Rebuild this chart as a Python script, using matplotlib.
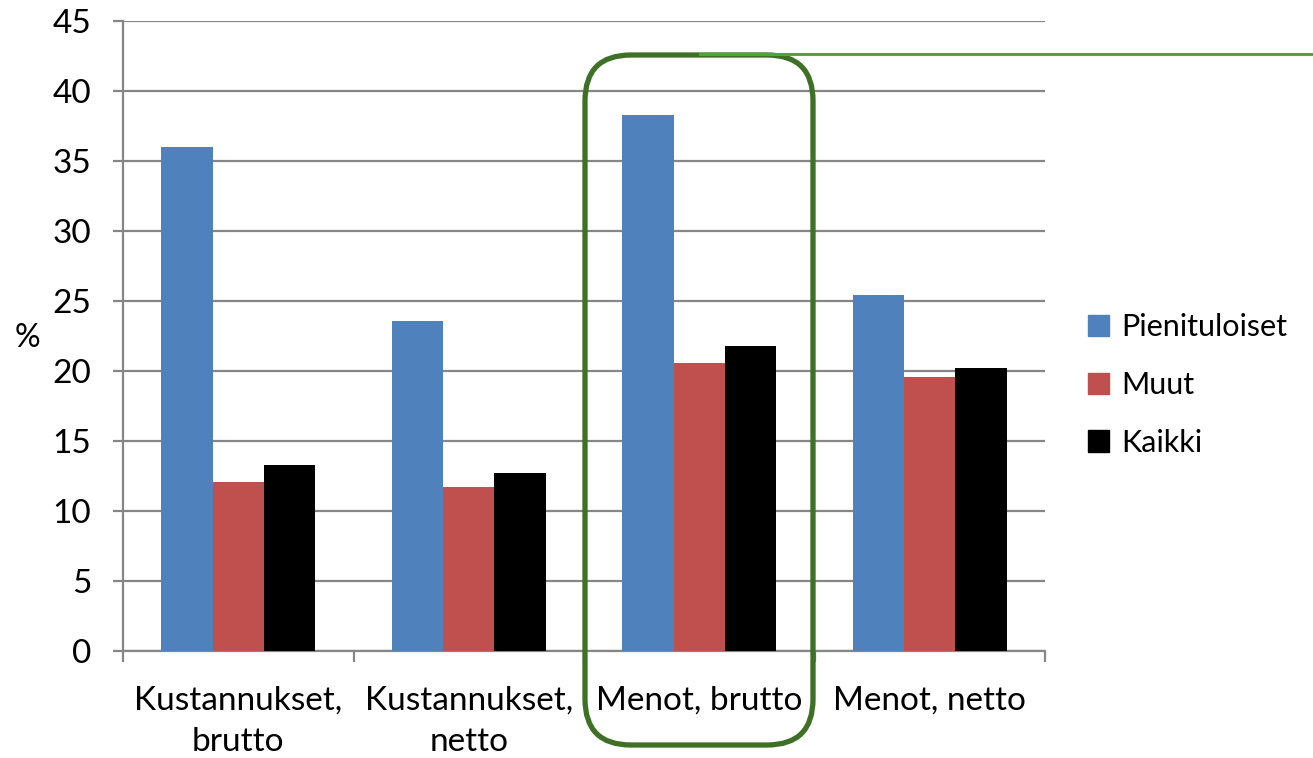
import matplotlib
matplotlib.use("Agg")
import matplotlib.pyplot as plt
import numpy as np
from matplotlib.patches import FancyBboxPatch
from matplotlib.lines import Line2D

plt.rcParams['font.family'] = ['Lato', 'DejaVu Sans']

categories = ["Kustannukset,\nbrutto", "Kustannukset,\nnetto", "Menot, brutto", "Menot, netto"]
series_names = ["Pienituloiset", "Muut", "Kaikki"]
pienituloiset = [36.0, 23.6, 38.3, 25.4]
muut = [12.1, 11.7, 20.6, 19.6]
kaikki = [13.3, 12.7, 21.8, 20.2]
colors = ["#4F81BD", "#C0504D", "#000000"]
y_ticks = [0, 5, 10, 15, 20, 25, 30, 35, 40, 45]

W, H = 1313, 758
fig = plt.figure(figsize=(W / 100, H / 100), dpi=100)
ax = fig.add_axes([123 / W, 1 - 651 / H, (1045 - 123) / W, (651 - 21) / H])

grid_col = "#868686"
x = np.arange(len(categories))
bw = 0.222
for i, (vals, name, col) in enumerate(zip([pienituloiset, muut, kaikki], series_names, colors)):
    ax.bar(x + (i - 1) * bw, vals, width=bw, color=col, label=name, zorder=3)

ax.set_xlim(-0.5, len(categories) - 0.5)
ax.set_ylim(0, 45)
ax.set_yticks(y_ticks)
ax.yaxis.grid(True, color=grid_col, linewidth=1.6, zorder=0)
ax.tick_params(axis='y', length=7, width=1.6, color=grid_col, pad=16, labelsize=24)

# category labels centred, tick marks on category boundaries
ax.set_xticks(x)
ax.set_xticklabels(categories, fontsize=24, linespacing=1.45)
ax.tick_params(axis='x', length=0, pad=25)
ax.set_xticks(np.arange(-0.5, len(categories)), minor=True)
ax.tick_params(axis='x', which='minor', length=8, width=1.6, color=grid_col)

for s in ["top", "right"]:
    ax.spines[s].set_visible(False)
for s in ["left", "bottom"]:
    ax.spines[s].set_color(grid_col)
    ax.spines[s].set_linewidth(1.6)

fig.text(27 / W, 1 - 338 / H, "%", fontsize=23, ha="center", va="center")

handles = [plt.Rectangle((0, 0), 1, 1, color=c) for c in colors]
fig.legend(handles, series_names, loc="center left", bbox_to_anchor=(1088 / W, 1 - 385 / H),
           frameon=False, fontsize=22, handlelength=0.7, handleheight=0.7,
           handletextpad=0.4, labelspacing=0.97, borderaxespad=0, borderpad=0)

# highlight around the "Menot, brutto" group
fig.add_artist(Line2D([700 / W, 1.0], [1 - 54 / H, 1 - 54 / H], transform=fig.transFigure,
                      color="#4EA72E", linewidth=2.2))
box = FancyBboxPatch((585 / W, 1 - 745 / H), (813 - 585) / W, (745 - 55) / H,
                     boxstyle="round,pad=0,rounding_size=0.035",
                     transform=fig.transFigure, fill=False, edgecolor="#3E7126",
                     linewidth=3.8, mutation_aspect=W / H)
fig.add_artist(box)

fig.savefig("out.png", dpi=100)
